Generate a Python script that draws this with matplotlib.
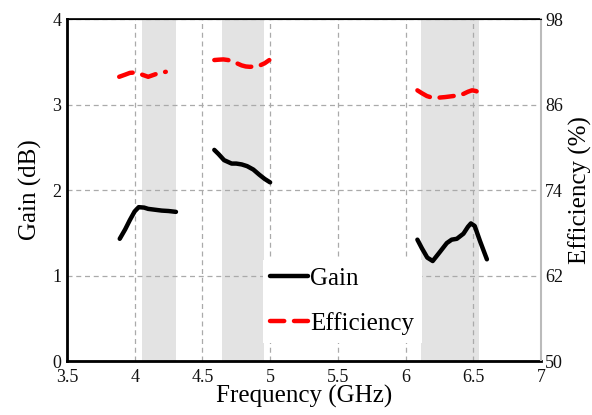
import numpy as np
import matplotlib; matplotlib.use("Agg")
import matplotlib.pyplot as plt

plt.rcParams["font.family"] = ["Liberation Serif", "DejaVu Serif"]

# gain (dB), three bands
gain_f1 = [3.89, 3.93, 3.965, 4.0, 4.03, 4.07, 4.1, 4.15, 4.2, 4.25, 4.305]
gain_v1 = [1.43, 1.54, 1.65, 1.75, 1.80, 1.795, 1.78, 1.77, 1.76, 1.755, 1.745]
gain_f2 = [4.588, 4.62, 4.66, 4.716, 4.75, 4.79, 4.83, 4.876, 4.92, 4.96, 5.0]
gain_v2 = [2.47, 2.42, 2.35, 2.31, 2.31, 2.30, 2.28, 2.24, 2.18, 2.13, 2.09]
gain_f3 = [6.087, 6.12, 6.16, 6.2, 6.25, 6.304, 6.34, 6.378, 6.427, 6.46, 6.482, 6.51, 6.55, 6.6]
gain_v3 = [1.42, 1.32, 1.21, 1.17, 1.27, 1.38, 1.42, 1.43, 1.49, 1.57, 1.61, 1.58, 1.40, 1.19]

# efficiency (%), three bands
eff_f1 = [3.886, 3.93, 3.965, 4.0, 4.04, 4.07, 4.1, 4.13, 4.16, 4.2, 4.23]
eff_v1 = [89.9, 90.2, 90.45, 90.5, 90.3, 90.1, 89.9, 90.1, 90.3, 90.5, 90.6]
eff_f2 = [4.588, 4.62, 4.655, 4.69, 4.73, 4.76, 4.79, 4.82, 4.85, 4.89, 4.925, 4.96, 4.994]
eff_v2 = [92.25, 92.3, 92.34, 92.25, 92.0, 91.75, 91.5, 91.35, 91.3, 91.35, 91.5, 91.8, 92.25]
eff_f3 = [6.087, 6.12, 6.157, 6.19, 6.23, 6.29, 6.353, 6.39, 6.427, 6.46, 6.49, 6.52, 6.555]
eff_v3 = [88.0, 87.6, 87.2, 87.0, 86.95, 87.05, 87.2, 87.35, 87.5, 87.8, 88.0, 87.9, 87.5]

# shaded operating bands (GHz)
bands = [(4.052, 4.303), (4.647, 4.955), (6.114, 6.545)]

fig = plt.figure(figsize=(5.92, 4.15), dpi=100)
ax = fig.add_axes([0.113, 0.130, 0.801, 0.824])
ax2 = ax.twinx()

for lo, hi in bands:
    ax.axvspan(lo, hi, color="#e3e3e3", lw=0, zorder=0.2)

ax.set_axisbelow(True)
ax.grid(True, ls=(0, (4, 3)), color="#aaaaaa", lw=0.9)

lw = 3.2
for f, v in [(gain_f1, gain_v1), (gain_f2, gain_v2), (gain_f3, gain_v3)]:
    ax.plot(f, v, color="black", lw=lw, solid_capstyle="round", zorder=3)
for f, v in [(eff_f1, eff_v1), (eff_f2, eff_v2), (eff_f3, eff_v3)]:
    ax2.plot(f, v, color="#ff0000", lw=lw, ls=(0, (3.2, 2.2)), dash_capstyle="round", zorder=3)

ax.set_xlim(3.5, 7); ax.set_ylim(0, 4)
ax2.set_ylim(50, 98)
ax.set_xticks([3.5, 4, 4.5, 5, 5.5, 6, 6.5, 7])
ax.set_xticklabels(["3.5", "4", "4.5", "5", "5.5", "6", "6.5", "7"])
ax.set_yticks([0, 1, 2, 3, 4])
ax2.set_yticks([50, 62, 74, 86, 98])
ax.tick_params(axis="y", length=0, labelsize=13, pad=4, colors="#111111")
ax.tick_params(axis="x", length=0, labelsize=13, pad=6, colors="#111111")
ax2.tick_params(length=0, labelsize=13, pad=3, colors="#111111")

ax.set_xlabel("Frequency (GHz)", fontsize=18, labelpad=-1)
ax.set_ylabel("Gain (dB)", fontsize=18, labelpad=7)
ax2.set_ylabel("Efficiency (%)", fontsize=18, labelpad=4)

for s in ["left", "bottom"]:
    ax.spines[s].set_linewidth(2.0)
ax.spines["top"].set_linewidth(1.2)
ax2.spines["right"].set_color("#bbbbbb"); ax2.spines["right"].set_linewidth(1.5)
ax.spines["right"].set_visible(False)

h1, = ax2.plot([], [], color="black", lw=lw, solid_capstyle="round")
h2, = ax2.plot([], [], color="#ff0000", lw=lw, ls=(0, (3.2, 2.2)), dash_capstyle="round")
leg = ax2.legend([h1, h2], ["Gain", "Efficiency"], loc="center", bbox_to_anchor=(0.581, 0.175),
                 fontsize=18, handlelength=1.5, handletextpad=0.1, labelspacing=0.9,
                 frameon=True, fancybox=False, framealpha=1, borderpad=0.3)
leg.get_frame().set_edgecolor("none")

fig.savefig("out.png", dpi=100)
